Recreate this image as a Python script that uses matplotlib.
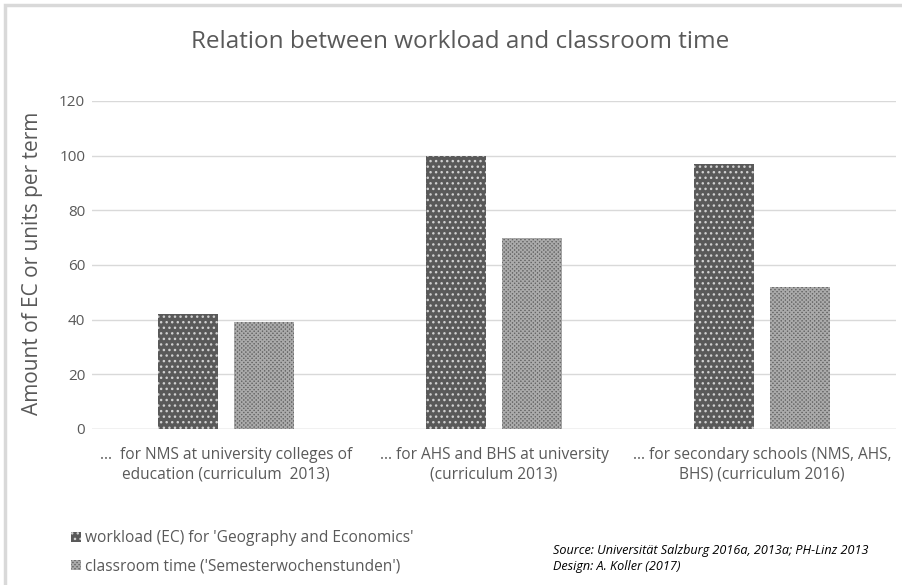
import matplotlib
matplotlib.use("Agg")
import matplotlib.pyplot as plt
import numpy as np
from matplotlib.patches import Rectangle, Patch

categories = ["...  for NMS at university colleges of\neducation (curriculum  2013)",
              "... for AHS and BHS at university\n(curriculum 2013)",
              "... for secondary schools (NMS, AHS,\nBHS) (curriculum 2016)"]
workload = [42, 100, 97]
classroom = [39, 70, 52]
series_names = ["workload (EC) for 'Geography and Economics'",
                "classroom time ('Semesterwochenstunden')"]
yticks = [0, 20, 40, 60, 80, 100, 120]

plt.rcParams['font.family'] = ['Open Sans', 'DejaVu Sans']
plt.rcParams['hatch.linewidth'] = 1.0

fig = plt.figure(figsize=(9.03, 5.85), dpi=100)
ax = fig.add_axes([0.102, 0.2667, 0.890, 0.5607])

x = np.arange(len(categories))
w = 0.224
off = 0.142
ax.bar(x - off, workload, w, color='#595959', edgecolor='#d0d0d0', hatch='...', linewidth=0, zorder=3)
ax.bar(x + off, classroom, w, color='#666666', edgecolor='#aaaaaa', hatch='xxxxxxxx', linewidth=0, zorder=3)

ax.set_xlim(-0.5, 2.5)
ax.set_ylim(0, 120)
ax.set_yticks(yticks)
ax.set_xticks(x)
ax.set_xticklabels(categories, fontsize=11.2, color='#595959', linespacing=1.3)
ax.tick_params(axis='y', labelsize=11, colors='#595959', length=0, pad=5)
ax.tick_params(axis='x', length=0, pad=13)
ax.yaxis.grid(True, color='#d9d9d9', linewidth=1, zorder=0)
for s in ax.spines.values():
    s.set_visible(False)
ax.axhline(0, color='#d9d9d9', linewidth=1, zorder=1)
ax.set_ylabel('Amount of EC or units per term', fontsize=15, color='#595959')
ax.yaxis.set_label_coords(-0.061, 0.505)

fig.text(0.509, 0.928, 'Relation between workload and classroom time', ha='center', va='center',
         fontsize=17.5, color='#595959')

handles = [Patch(facecolor='#595959', edgecolor='#d0d0d0', hatch='...', linewidth=0),
           Patch(facecolor='#666666', edgecolor='#aaaaaa', hatch='xxxxxxxx', linewidth=0)]
fig.legend(handles, series_names, loc='center left', bbox_to_anchor=(0.072, 0.056),
           frameon=False, fontsize=11.2, labelcolor='#595959', handlelength=0.6, handleheight=0.6,
           handletextpad=0.3, labelspacing=0.75, borderaxespad=0)

fig.text(0.612, 0.045, 'Source: Universität Salzburg 2016a, 2013a; PH-Linz 2013\nDesign: A. Koller (2017)',
         ha='left', va='center', fontsize=9.1, style='italic', color='#000000', linespacing=1.35)

fig.patches.append(Rectangle((5/903, -0.1), 1.2, 1 - 5/585 + 0.1, transform=fig.transFigure,
                             fill=False, edgecolor='#d9d9d9', linewidth=2.5))

fig.savefig('out.png', dpi=100)
